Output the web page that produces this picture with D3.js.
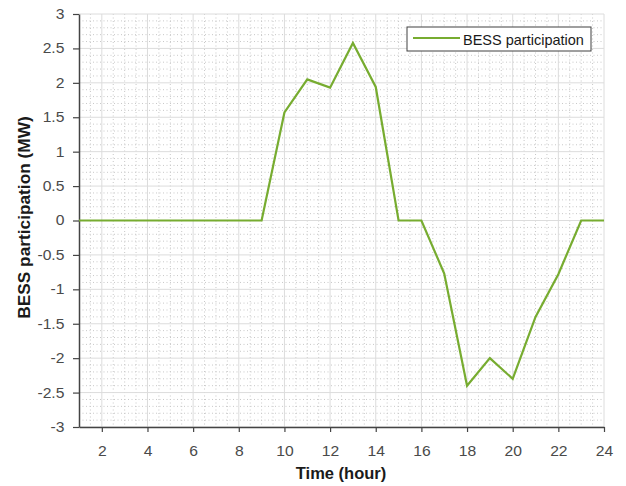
<!DOCTYPE html>
<html>
<head>
<meta charset="utf-8">
<script src="https://cdn.jsdelivr.net/npm/d3@7"></script>
<style>
  body { margin: 0; background: #fff; }
  svg { font-family: "Liberation Sans", Arial, sans-serif; }
</style>
</head>
<body>
<svg width="626" height="486"></svg>
<script>
var hours = d3.range(1, 25);
var bess = [0, 0, 0, 0, 0, 0, 0, 0, 0, 1.57, 2.05, 1.93, 2.58, 1.94, 0, 0,
            -0.77, -2.4, -2.0, -2.3, -1.4, -0.78, 0, 0];
var xTicks = [2, 4, 6, 8, 10, 12, 14, 16, 18, 20, 22, 24];
var yTicks = [-3, -2.5, -2, -1.5, -1, -0.5, 0, 0.5, 1, 1.5, 2, 2.5, 3];
var seriesName = "BESS participation";

var svg = d3.select("svg"),
    plotL = 79, plotR = 604, plotT = 14, plotB = 427;

var x = d3.scaleLinear().domain([1, 24]).range([plotL, plotR]);
var y = d3.scaleLinear().domain([-3, 3]).range([plotB, plotT]);

// minor grid
var g = svg.append("g");
g.selectAll(".vminor")
  .data(d3.range(1.5, 24, 0.5).filter(function (d) { return d % 2 !== 0; }))
  .enter().append("line")
  .attr("x1", function (d) { return x(d); }).attr("x2", function (d) { return x(d); })
  .attr("y1", plotT).attr("y2", plotB)
  .attr("stroke", "#c8c8c8").attr("stroke-width", 1)
  .attr("stroke-dasharray", "1,2.5");
g.selectAll(".hminor")
  .data(d3.range(-29, 30).filter(function (d) { return d % 5 !== 0; }))
  .enter().append("line")
  .attr("x1", plotL).attr("x2", plotR)
  .attr("y1", function (d) { return y(d / 10); }).attr("y2", function (d) { return y(d / 10); })
  .attr("stroke", "#c8c8c8").attr("stroke-width", 1)
  .attr("stroke-dasharray", "1,2.5");

// major grid
g.selectAll(".vmajor")
  .data(xTicks)
  .enter().append("line")
  .attr("x1", function (d) { return x(d); }).attr("x2", function (d) { return x(d); })
  .attr("y1", plotT).attr("y2", plotB)
  .attr("stroke", "#dcdcdc").attr("stroke-width", 1);
g.selectAll(".hmajor")
  .data(yTicks)
  .enter().append("line")
  .attr("x1", plotL).attr("x2", plotR)
  .attr("y1", function (d) { return y(d); }).attr("y2", function (d) { return y(d); })
  .attr("stroke", "#dcdcdc").attr("stroke-width", 1);

// axes
var xAxis = svg.append("g")
  .attr("transform", "translate(0," + plotB + ")")
  .call(d3.axisBottom(x).tickValues(xTicks).tickSize(5).tickPadding(14).tickSizeOuter(0));
var yAxis = svg.append("g")
  .attr("transform", "translate(" + plotL + ",0)")
  .call(d3.axisLeft(y).tickValues(yTicks).tickSize(6).tickPadding(7).tickSizeOuter(0)
        .tickFormat(function (d) { return d3.format("")(d).replace("−", "-"); }));

[xAxis, yAxis].forEach(function (a) {
  a.select(".domain").attr("stroke", "#444").attr("stroke-width", 1.5);
  a.selectAll(".tick line").attr("stroke", "#444").attr("stroke-width", 1.2);
  a.selectAll(".tick text").attr("fill", "#4a4a4a")
    .style("font-size", "14px").style("font-family", "Liberation Sans, Arial, sans-serif")
    .attr("transform", "scale(1.12,1)");
});

// line
var line = d3.line()
  .x(function (d, i) { return x(hours[i]); })
  .y(function (d) { return y(d); });
svg.append("path")
  .datum(bess)
  .attr("d", line)
  .attr("fill", "none")
  .attr("stroke", "#77ac30")
  .attr("stroke-width", 2.2)
  .attr("stroke-linejoin", "miter");

// labels
svg.append("text")
  .attr("x", 341).attr("y", 479)
  .attr("text-anchor", "middle")
  .attr("font-weight", "bold").attr("font-size", 16.5)
  .attr("fill", "#1a1a1a")
  .text("Time (hour)");
svg.append("text")
  .attr("transform", "translate(29.5,217.5) rotate(-90)")
  .attr("text-anchor", "middle")
  .attr("font-weight", "bold").attr("font-size", 17.3)
  .attr("fill", "#1a1a1a")
  .text("BESS participation (MW)");

// legend
var lg = svg.append("g").attr("transform", "translate(407,27)");
lg.append("rect")
  .attr("width", 184).attr("height", 24)
  .attr("fill", "#fff").attr("stroke", "#404040").attr("stroke-width", 1);
lg.append("line")
  .attr("x1", 6).attr("x2", 53).attr("y1", 11).attr("y2", 11)
  .attr("stroke", "#77ac30").attr("stroke-width", 2.2);
lg.append("text")
  .attr("x", 56).attr("y", 18)
  .attr("font-size", 14.5).attr("fill", "#1a1a1a")
  .text(seriesName);
</script>
</body>
</html>
